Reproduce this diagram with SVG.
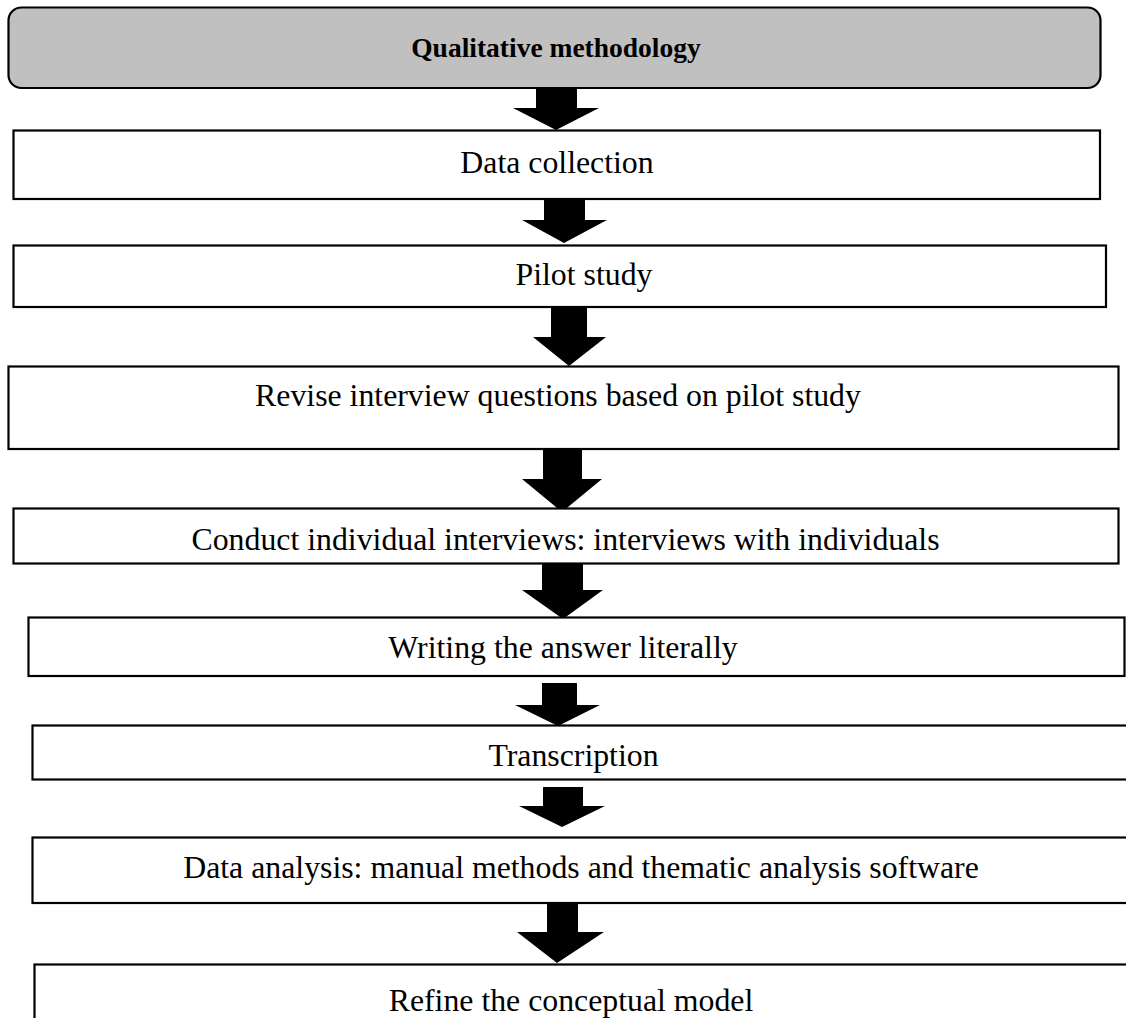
<svg xmlns="http://www.w3.org/2000/svg" width="1126" height="1018" viewBox="0 0 1126 1018">
  <style>
    .box { fill: #ffffff; stroke: #000000; stroke-width: 2.2; }
    .head { fill: #c0c0c0; stroke: #000000; stroke-width: 2.2; }
    .lbl { font-family: "Liberation Serif", "Times New Roman", serif; font-size: 31.8px; fill: #000000; text-anchor: middle; }
    .title { font-weight: bold; font-size: 27.5px; }
    .arrow { fill: #000000; }
  </style>

  <rect x="0" y="0" width="1126" height="1018" fill="#ffffff"/>

  <!-- flow arrows -->
  <g id="connectors">
    <polygon class="arrow" points="536,89 577,89 577,108 599,108 556,130 513,108 536,108"/>
    <polygon class="arrow" points="544,200 585,200 585,220 607,220 564,243 522,220 544,220"/>
    <polygon class="arrow" points="551,308 587,308 587,337 606,337 569,366 533,337 551,337"/>
    <polygon class="arrow" points="543,450 582,450 582,479 602,479 562,512 522,479 543,479"/>
    <polygon class="arrow" points="542,564 583,564 583,590 603,590 563,619 522,590 542,590"/>
    <polygon class="arrow" points="542,683 577,683 577,705 600,705 558,726 515,705 542,705"/>
    <polygon class="arrow" points="543,787 583,787 583,806 605,806 562,827 519,806 543,806"/>
    <polygon class="arrow" points="547,904 578,904 578,932 604,932 557,963 517,932 547,932"/>
  </g>

  <g id="node-qualitative-methodology">
    <rect class="head" x="8.5" y="7.5" width="1092" height="80.5" rx="13" ry="13"/>
    <text class="lbl title" x="556" y="56.5">Qualitative methodology</text>
  </g>

  <g id="node-data-collection">
    <rect class="box" x="13.5" y="130.5" width="1086.5" height="68.5"/>
    <text class="lbl" x="557" y="173">Data collection</text>
  </g>

  <g id="node-pilot-study">
    <rect class="box" x="13.5" y="245.5" width="1092.5" height="61.5"/>
    <text class="lbl" x="584" y="284.5">Pilot study</text>
  </g>

  <g id="node-revise-questions">
    <rect class="box" x="8.5" y="366.5" width="1110" height="82.5"/>
    <text class="lbl" x="558" y="406">Revise interview questions based on pilot study</text>
  </g>

  <g id="node-conduct-interviews">
    <rect class="box" x="13.5" y="508.5" width="1105" height="55"/>
    <text class="lbl" x="565.5" y="550">Conduct individual interviews: interviews with individuals</text>
  </g>

  <g id="node-writing-answers">
    <rect class="box" x="28.5" y="617.5" width="1096" height="58.5"/>
    <text class="lbl" x="563" y="658">Writing the answer literally</text>
  </g>

  <g id="node-transcription">
    <rect class="box" x="32.5" y="725.5" width="1100" height="54"/>
    <text class="lbl" x="573.5" y="765.5">Transcription</text>
  </g>

  <g id="node-data-analysis">
    <rect class="box" x="32.5" y="837.5" width="1100" height="65.5"/>
    <text class="lbl" x="581" y="877.5">Data analysis: manual methods and thematic analysis software</text>
  </g>

  <g id="node-refine-model">
    <rect class="box" x="34.5" y="964.5" width="1100" height="70"/>
    <text class="lbl" x="571" y="1011">Refine the conceptual model</text>
  </g>
</svg>
